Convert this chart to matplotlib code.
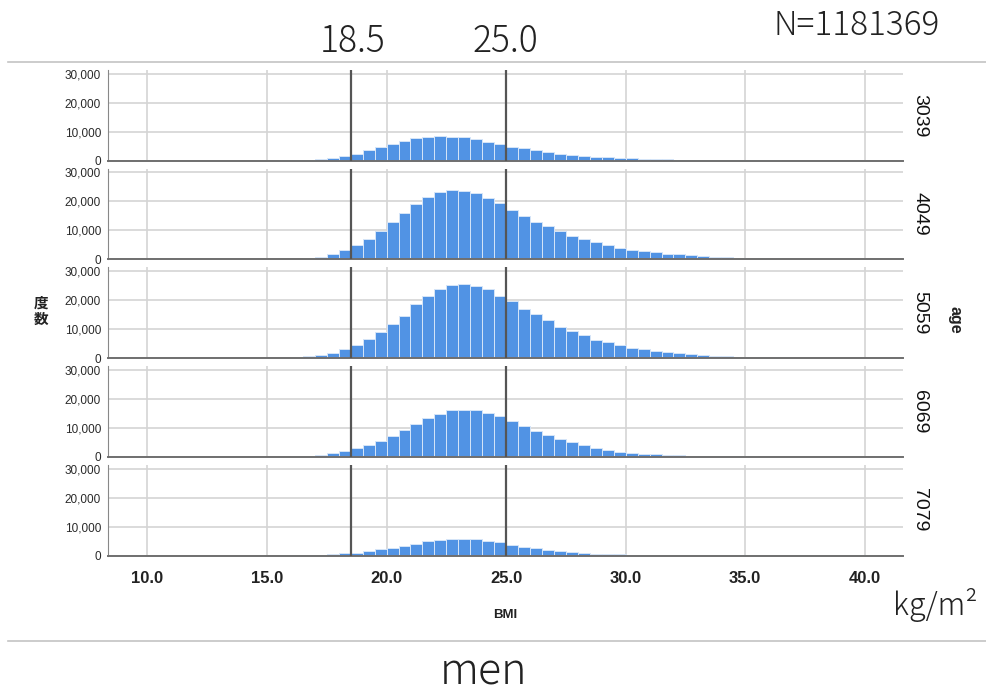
import numpy as np
import matplotlib
matplotlib.use("Agg")
from matplotlib import pyplot as plt

plt.rcParams['font.family'] = ['Liberation Sans', 'Noto Sans CJK JP', 'DejaVu Sans']

# left edge of each 0.5-wide BMI bin (15.5 ... 40.5)
bin_left = np.arange(15.5, 41.0, 0.5)

age_groups = ["3039", "4049", "5059", "6069", "7079"]

counts_3039 = [100, 200, 400, 600, 1000, 1600, 2400, 3600, 4800, 5700, 6800, 7700, 8200,
               8400, 8200, 8100, 7400, 6400, 5700, 4900, 4300, 3600, 3000, 2400, 1950, 1600,
               1400, 1150, 900, 800, 650, 550, 450, 380, 320, 260, 210, 170, 140, 110, 90,
               70, 55, 45, 35, 28, 22, 18, 14, 11, 9]
counts_4049 = [100, 250, 450, 900, 1800, 3200, 5100, 7200, 9800, 12900, 16100, 19000, 21600,
               23200, 24100, 23600, 23000, 21300, 19300, 17200, 14900, 13000, 11500, 9800,
               8000, 6900, 6100, 4800, 4000, 3400, 2900, 2400, 2000, 1700, 1400, 1150, 950,
               800, 650, 530, 430, 350, 280, 230, 190, 150, 120, 100, 80, 60, 50]
counts_5059 = [100, 250, 600, 1000, 1700, 3000, 4400, 6600, 9100, 11700, 14700, 18500, 21600,
               23700, 25200, 25400, 24900, 23900, 21600, 19700, 17000, 15100, 13000, 10900,
               9500, 7900, 6400, 5500, 4600, 3600, 3000, 2500, 2000, 1600, 1300, 1050, 850,
               680, 550, 440, 350, 280, 220, 170, 140, 110, 90, 70, 55, 45, 35]
counts_6069 = [80, 200, 350, 600, 1150, 2000, 3000, 4100, 5500, 7100, 9100, 11400, 13300,
               14700, 16000, 16300, 16100, 15200, 14000, 12300, 10500, 9000, 7500, 6200,
               5100, 4000, 3200, 2500, 1800, 1400, 1100, 850, 650, 500, 380, 300, 230, 180,
               140, 110, 80, 60, 45, 35, 28, 22, 17, 13, 10, 8, 6]
counts_7079 = [40, 70, 120, 230, 350, 700, 1000, 1600, 2200, 2700, 3400, 4100, 4900, 5400,
               5700, 5800, 5700, 5100, 4500, 3700, 3100, 2500, 2000, 1500, 1150, 800, 600,
               450, 350, 250, 180, 130, 100, 70, 50, 40, 30, 22, 16, 12, 9, 7, 5, 4, 3, 2,
               2, 1, 1, 1, 0]

all_counts = [counts_3039, counts_4049, counts_5059, counts_6069, counts_7079]

x_ticks = [10.0, 15.0, 20.0, 25.0, 30.0, 35.0, 40.0]
y_ticks = [0, 10000, 20000, 30000]
y_tick_labels = ["0", "10,000", "20,000", "30,000"]
cut_points = [18.5, 25.0]

W, H = 987, 696
fig = plt.figure(figsize=(W / 100, H / 100), dpi=100)

left_px, right_px = 108, 903
panel_h = 90.7
axes = []
for i, (grp, counts) in enumerate(zip(age_groups, all_counts)):
    top = 70 + 98.7 * i
    ax = fig.add_axes([left_px / W, 1 - (top + panel_h) / H,
                       (right_px - left_px) / W, panel_h / H])
    ax.bar(bin_left, counts, width=0.5, align='edge', color='#5193e4',
           edgecolor='#d6e5f8', linewidth=0.7, zorder=2)
    for c in cut_points:
        ax.axvline(c, color='#555555', lw=1.6, zorder=3)
    ax.set_xlim(8.35, 41.6)
    ax.set_ylim(0, 31300)
    ax.set_xticks(x_ticks)
    ax.set_yticks(y_ticks)
    ax.set_yticklabels(y_tick_labels)
    ax.grid(True, color='#d4d4d4', lw=1.2, zorder=0)
    ax.set_axisbelow(True)
    for s in ['top', 'right']:
        ax.spines[s].set_visible(False)
    ax.spines['left'].set_color('#888888')
    ax.spines['bottom'].set_color('#6f6f6f')
    ax.spines['bottom'].set_linewidth(1.4)
    ax.tick_params(axis='y', length=0, pad=5, labelsize=8.5, labelcolor='#2a2a2a')
    if i < len(age_groups) - 1:
        ax.tick_params(axis='x', length=0, labelbottom=False)
    else:
        ax.set_xticklabels([f"{t:.1f}" for t in x_ticks], fontweight='bold')
        ax.tick_params(axis='x', length=0, pad=11, labelsize=12, labelcolor='#222222')
    fig.text(920 / W, 1 - (top + panel_h / 2) / H, grp, rotation=-90,
             ha='center', va='center', fontsize=14, color='#111111')
    axes.append(ax)

# axis titles
fig.text(505 / W, 1 - 615 / H, "BMI", ha='center', va='center', fontsize=9.5,
         fontweight='bold', color='#222222')
fig.text(955 / W, 1 - 320 / H, "age", rotation=-90, ha='center', va='center',
         fontsize=11.5, fontweight='bold', color='#222222')
fig.text(41 / W, 1 - 311 / H, "度\n数", ha='center', va='center', fontsize=10.5,
         fontweight='bold', linespacing=1.0, color='#222222',
         family=['Noto Sans CJK JP'])

# annotations around the chart
ann_font = ['Noto Sans CJK JP', 'DejaVu Sans']
ann = dict(ha='center', va='center', color='#222222', family=ann_font, fontweight='light')
fig.text(353 / W, 1 - 42 / H, "18.5", fontsize=25.5, **ann)
fig.text(505 / W, 1 - 42 / H, "25.0", fontsize=25.5, **ann)
fig.text(857 / W, 1 - 26 / H, "N=1181369", fontsize=24, **ann)
fig.text(935 / W, 1 - 605 / H, "kg/m²", fontsize=22, **ann)
fig.text(484 / W, 1 - 672 / H, "men", fontsize=31, **ann)

# separator lines
for y in [62, 641]:
    fig.add_artist(plt.Line2D([8 / W, 1.0], [1 - y / H, 1 - y / H],
                              transform=fig.transFigure, color='#c4c4c4', lw=1.2))

fig.savefig("out.png", dpi=100)
